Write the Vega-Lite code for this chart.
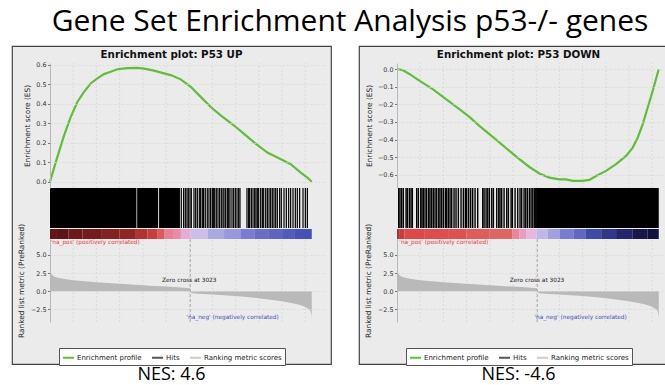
{
  "$schema": "https://vega.github.io/schema/vega-lite/v6.json",
  "background": "white",
  "padding": {"left": 11, "top": 7, "right": 0, "bottom": 0},
  "title": {"text": "Gene Set Enrichment Analysis p53-/- genes", "font": "Open Sans", "fontSize": 30, "fontWeight": "normal", "color": "#000", "anchor": "middle", "frame": "bounds", "dx": 5, "offset": 8},
  "spacing": 26,
  "datasets": {
    "grid": [{"r":500},{"r":1000},{"r":1500},{"r":2000},{"r":2500},{"r":3000},{"r":3500},{"r":4000},{"r":4500},{"r":5000},{"r":5500}],
    "metric": [{"r":0,"m":3.2},{"r":10,"m":2.8},{"r":30,"m":2.4},{"r":60,"m":2.15},{"r":100,"m":2.0},{"r":200,"m":1.82},{"r":350,"m":1.65},{"r":500,"m":1.52},{"r":750,"m":1.38},{"r":1000,"m":1.25},{"r":1250,"m":1.12},{"r":1500,"m":1.02},{"r":1750,"m":0.92},{"r":2000,"m":0.83},{"r":2250,"m":0.74},{"r":2500,"m":0.64},{"r":2750,"m":0.54},{"r":2950,"m":0.45},{"r":3015,"m":0.4},{"r":3023,"m":0.0},{"r":3030,"m":-0.2},{"r":3100,"m":-0.3},{"r":3300,"m":-0.37},{"r":3500,"m":-0.45},{"r":3750,"m":-0.55},{"r":4000,"m":-0.66},{"r":4250,"m":-0.8},{"r":4500,"m":-0.96},{"r":4750,"m":-1.15},{"r":5000,"m":-1.38},{"r":5200,"m":-1.6},{"r":5350,"m":-1.82},{"r":5450,"m":-2.02},{"r":5530,"m":-2.25},{"r":5590,"m":-2.5},{"r":5620,"m":-2.8},{"r":5635,"m":-3.3},{"r":5640,"m":-3.9}],
    "esUp": [{"r":0,"es":0},{"r":86,"es":0.07},{"r":194,"es":0.155},{"r":302,"es":0.237},{"r":445,"es":0.332},{"r":589,"es":0.41},{"r":733,"es":0.462},{"r":876,"es":0.505},{"r":1020,"es":0.531},{"r":1164,"es":0.553},{"r":1307,"es":0.565},{"r":1451,"es":0.578},{"r":1667,"es":0.584},{"r":1882,"es":0.585},{"r":2026,"es":0.581},{"r":2241,"es":0.571},{"r":2457,"es":0.557},{"r":2601,"es":0.548},{"r":2816,"es":0.526},{"r":3032,"es":0.488},{"r":3247,"es":0.436},{"r":3463,"es":0.384},{"r":3678,"es":0.341},{"r":3966,"es":0.289},{"r":4181,"es":0.246},{"r":4397,"es":0.202},{"r":4684,"es":0.15},{"r":4899,"es":0.125},{"r":5187,"es":0.09},{"r":5402,"es":0.047},{"r":5546,"es":0.021},{"r":5640,"es":0.0}],
    "esDown": [{"r":0,"es":0},{"r":122,"es":-0.006},{"r":266,"es":-0.028},{"r":481,"es":-0.066},{"r":769,"es":-0.114},{"r":1056,"es":-0.17},{"r":1343,"es":-0.227},{"r":1559,"es":-0.271},{"r":1774,"es":-0.322},{"r":1990,"es":-0.369},{"r":2205,"es":-0.416},{"r":2421,"es":-0.464},{"r":2637,"es":-0.511},{"r":2852,"es":-0.555},{"r":3068,"es":-0.592},{"r":3283,"es":-0.615},{"r":3499,"es":-0.625},{"r":3642,"es":-0.625},{"r":3786,"es":-0.634},{"r":4001,"es":-0.634},{"r":4145,"es":-0.628},{"r":4289,"es":-0.606},{"r":4504,"es":-0.577},{"r":4720,"es":-0.539},{"r":4935,"es":-0.492},{"r":5079,"es":-0.445},{"r":5187,"es":-0.388},{"r":5295,"es":-0.312},{"r":5402,"es":-0.218},{"r":5510,"es":-0.123},{"r":5640,"es":0.0}],
    "hitsUp": [{"r":0,"r2":1862},{"r":1878,"r2":2330},{"r":2350,"r2":2800},{"r":2816,"r2":2842},{"r":2866,"r2":2892},{"r":2902,"r2":2928},{"r":2938,"r2":2964},{"r":2967,"r2":2993},{"r":3003,"r2":3029},{"r":3032,"r2":3058},{"r":3089,"r2":3115},{"r":3125,"r2":3151},{"r":3161,"r2":3187},{"r":3204,"r2":3230},{"r":3233,"r2":3259},{"r":3269,"r2":3295},{"r":3297,"r2":3323},{"r":3333,"r2":3359},{"r":3376,"r2":3402},{"r":3412,"r2":3438},{"r":3448,"r2":3474},{"r":3484,"r2":3510},{"r":3506,"r2":3532},{"r":3535,"r2":3561},{"r":3570,"r2":3596},{"r":3606,"r2":3632},{"r":3642,"r2":3668},{"r":3678,"r2":3704},{"r":3714,"r2":3740},{"r":3736,"r2":3762},{"r":3772,"r2":3798},{"r":3808,"r2":3834},{"r":3837,"r2":3863},{"r":3865,"r2":3891},{"r":3908,"r2":3934},{"r":3944,"r2":3970},{"r":3980,"r2":4006},{"r":4016,"r2":4042},{"r":4052,"r2":4078},{"r":4080,"r2":4106},{"r":4231,"r2":4257},{"r":4267,"r2":4293},{"r":4289,"r2":4315},{"r":4325,"r2":4351},{"r":4361,"r2":4387},{"r":4397,"r2":4423},{"r":4425,"r2":4451},{"r":4454,"r2":4480},{"r":4483,"r2":4509},{"r":4526,"r2":4552},{"r":4562,"r2":4588},{"r":4591,"r2":4617},{"r":4634,"r2":4660},{"r":4670,"r2":4696},{"r":4706,"r2":4732},{"r":4741,"r2":4767},{"r":4777,"r2":4803},{"r":4813,"r2":4839},{"r":4849,"r2":4875},{"r":4885,"r2":4911},{"r":4935,"r2":4961},{"r":4971,"r2":4997},{"r":5029,"r2":5055},{"r":5079,"r2":5105},{"r":5129,"r2":5155},{"r":5172,"r2":5198},{"r":5223,"r2":5249},{"r":5273,"r2":5299},{"r":5316,"r2":5342},{"r":5366,"r2":5392},{"r":5438,"r2":5464},{"r":5489,"r2":5515},{"r":5532,"r2":5558}],
    "hitsDown": [{"r":22,"r2":52},{"r":50,"r2":80},{"r":86,"r2":116},{"r":122,"r2":152},{"r":180,"r2":210},{"r":208,"r2":238},{"r":251,"r2":281},{"r":287,"r2":317},{"r":316,"r2":346},{"r":409,"r2":439},{"r":445,"r2":475},{"r":496,"r2":526},{"r":524,"r2":554},{"r":553,"r2":583},{"r":589,"r2":619},{"r":625,"r2":655},{"r":668,"r2":698},{"r":697,"r2":727},{"r":733,"r2":763},{"r":769,"r2":799},{"r":805,"r2":835},{"r":841,"r2":871},{"r":884,"r2":914},{"r":912,"r2":942},{"r":948,"r2":978},{"r":984,"r2":1014},{"r":1027,"r2":1057},{"r":1056,"r2":1086},{"r":1092,"r2":1122},{"r":1128,"r2":1158},{"r":1164,"r2":1194},{"r":1214,"r2":1244},{"r":1257,"r2":1287},{"r":1307,"r2":1337},{"r":1365,"r2":1395},{"r":1415,"r2":1445},{"r":1458,"r2":1488},{"r":1487,"r2":1517},{"r":1530,"r2":1560},{"r":1573,"r2":1603},{"r":1616,"r2":1646},{"r":1667,"r2":1697},{"r":1724,"r2":1754},{"r":1832,"r2":1862},{"r":1861,"r2":1891},{"r":1904,"r2":1934},{"r":1940,"r2":1970},{"r":1976,"r2":2006},{"r":2026,"r2":2056},{"r":2062,"r2":2092},{"r":2134,"r2":2164},{"r":2177,"r2":2207},{"r":2205,"r2":2235},{"r":2241,"r2":2271},{"r":2292,"r2":2322},{"r":2349,"r2":2379},{"r":2385,"r2":2415},{"r":2443,"r2":2473},{"r":2471,"r2":2501},{"r":2529,"r2":2559},{"r":2586,"r2":2616},{"r":2636,"r2":2666},{"r":2672,"r2":2702},{"r":2723,"r2":2753},{"r":2759,"r2":2789},{"r":2795,"r2":2825},{"r":2838,"r2":2868},{"r":2874,"r2":2904},{"r":2910,"r2":2940},{"r":2945,"r2":2975},{"r":2974,"r2":3004},{"r":2996,"r2":5640}],
    "cbUp": [{"r":0,"r2":150,"v":0.98},{"r":150,"r2":400,"v":1.0},{"r":400,"r2":700,"v":0.95},{"r":700,"r2":1100,"v":0.93},{"r":1100,"r2":1500,"v":0.88},{"r":1500,"r2":1850,"v":0.85},{"r":1850,"r2":2100,"v":0.75},{"r":2100,"r2":2320,"v":0.68},{"r":2320,"r2":2470,"v":0.52},{"r":2470,"r2":2650,"v":0.32},{"r":2650,"r2":2820,"v":0.28},{"r":2820,"r2":3030,"v":0.15},{"r":3030,"r2":3400,"v":-0.1},{"r":3400,"r2":3750,"v":-0.22},{"r":3750,"r2":4100,"v":-0.28},{"r":4100,"r2":4400,"v":-0.38},{"r":4400,"r2":4700,"v":-0.45},{"r":4700,"r2":5000,"v":-0.5},{"r":5000,"r2":5260,"v":-0.55},{"r":5260,"r2":5640,"v":-0.6}],
    "cbDown": [{"r":0,"r2":60,"v":0.75},{"r":60,"r2":160,"v":0.68},{"r":160,"r2":600,"v":0.6},{"r":600,"r2":1100,"v":0.58},{"r":1100,"r2":1500,"v":0.56},{"r":1500,"r2":2000,"v":0.5},{"r":2000,"r2":2490,"v":0.45},{"r":2490,"r2":2640,"v":0.3},{"r":2640,"r2":2780,"v":0.22},{"r":2780,"r2":3010,"v":0.1},{"r":3010,"r2":3250,"v":-0.15},{"r":3250,"r2":3500,"v":-0.25},{"r":3500,"r2":3800,"v":-0.38},{"r":3800,"r2":4070,"v":-0.48},{"r":4070,"r2":4400,"v":-0.65},{"r":4400,"r2":4720,"v":-0.75},{"r":4720,"r2":5080,"v":-0.86},{"r":5080,"r2":5400,"v":-0.96},{"r":5400,"r2":5640,"v":-1.0}]
  },
  "hconcat": [
    {
      "title": {"text": "NES: 4.6", "orient": "bottom", "font": "Open Sans", "fontSize": 18, "fontWeight": "normal", "color": "#000", "anchor": "middle", "offset": 0},
      "vconcat": [
        {
          "width": 319, "height": 318,
          "view": {"fill": "#ebebeb", "stroke": "#444", "strokeWidth": 1.2},
          "title": {"text": "Enrichment plot: P53 UP", "offset": -14, "font": "DejaVu Sans", "fontSize": 10.3, "fontWeight": "bold", "color": "#111", "anchor": "middle"},
          "resolve": {"scale": {"y": "independent"}, "axis": {"y": "independent"}},
          "encoding": {"x": {"field": "r", "type": "quantitative", "scale": {"domain": [0, 5925], "range": [38, 313], "nice": false, "zero": false}, "axis": {"title": "Rank in Ordered Dataset", "offset": -42, "values": [0,500,1000,1500,2000,2500,3000,3500,4000,4500,5000,5500], "format": ",d", "grid": false}}},
          "layer": [
            {"data": {"values": [{}]}, "mark": {"type": "rect", "fill": "white", "stroke": "#c4c4c4", "strokeWidth": 0.8},
             "encoding": {"x": {"datum": 0, "axis": null}, "x2": {"datum": 5925}, "y": {"datum": -0.032, "scale": {"domain": [-0.032, 0.61], "range": [142, 17], "nice": false, "zero": false}, "axis": null}, "y2": {"datum": 0.61}}},
            {"data": {"name": "grid"}, "mark": {"type": "rule", "stroke": "#d6d6d6", "strokeDash": [2, 2], "strokeWidth": 0.8},
             "encoding": {"y": {"datum": -0.032, "scale": {"domain": [-0.032, 0.61], "range": [142, 17], "nice": false, "zero": false}, "axis": null}, "y2": {"datum": 0.61}}},
            {"data": {"values": [{}]}, "mark": {"type": "rect", "fill": "#cfcfcf"},
             "encoding": {"x": {"datum": 0, "axis": null}, "x2": {"datum": 5925}, "y": {"datum": -0.008, "scale": {"domain": [-0.032, 0.61], "range": [142, 17], "nice": false, "zero": false}, "axis": null}, "y2": {"datum": 0.008}}},
            {"data": {"name": "esUp"}, "mark": {"type": "line", "strokeWidth": 2.2},
             "encoding": {
               "y": {"field": "es", "type": "quantitative", "scale": {"domain": [-0.032, 0.61], "range": [142, 17], "nice": false, "zero": false},
                     "axis": {"title": "Enrichment score (ES)", "orient": "left", "offset": -38, "values": [0, 0.1, 0.2, 0.3, 0.4, 0.5, 0.6], "format": ".1f", "grid": true, "zindex": 1, "titlePadding": 4}},
               "color": {"datum": "Enrichment profile", "scale": {"domain": ["Enrichment profile", "Hits", "Ranking metric scores"], "range": ["#62bd3b", "#555555", "#cccccc"]},
                         "legend": {"orient": "none", "legendX": 47, "legendY": 302, "direction": "horizontal", "title": null, "symbolType": "stroke", "symbolStrokeWidth": 2, "symbolSize": 121, "labelFont": "DejaVu Sans", "labelFontSize": 7, "labelColor": "#222", "labelOffset": 2, "columnPadding": 6, "fillColor": "white", "strokeColor": "#555", "padding": 3}}}},
            {"data": {"values": [{}]}, "mark": {"type": "rect", "fill": "white", "stroke": "#c4c4c4", "strokeWidth": 0.8},
             "encoding": {"x": {"datum": 0, "axis": null}, "x2": {"datum": 5925}, "y": {"datum": 0, "scale": {"domain": [0, 1], "range": [182, 142]}, "axis": null}, "y2": {"datum": 1}}},
            {"data": {"name": "hitsUp"}, "mark": {"type": "rect", "fill": "black"},
             "encoding": {"x2": {"field": "r2"}, "y": {"datum": 0, "scale": {"domain": [0, 1], "range": [182, 142]}, "axis": null}, "y2": {"datum": 1}}},
            {"data": {"name": "cbUp"}, "mark": {"type": "rect"},
             "encoding": {"x2": {"field": "r2"}, "y": {"datum": 0, "scale": {"domain": [0, 1], "range": [193, 183]}, "axis": null}, "y2": {"datum": 1},
               "fill": {"field": "v", "type": "quantitative", "scale": {"domain": [-1, -0.8, -0.6, -0.4, -0.2, 0, 0.2, 0.4, 0.6, 0.8, 1], "range": ["#121240", "#2c2e80", "#4352b8", "#7476d0", "#b0b0e4", "#e2cdee", "#e8a2c8", "#e06c6c", "#e04848", "#a42a2a", "#5c1414"]}, "legend": null}}},
            {"data": {"values": [{}]}, "mark": {"type": "rect", "fill": "white", "stroke": "#c4c4c4", "strokeWidth": 0.8},
             "encoding": {"x": {"datum": 0, "axis": null}, "x2": {"datum": 5925}, "y": {"datum": -4.22, "scale": {"domain": [-4.22, 7.18], "range": [276, 193], "nice": false, "zero": false}, "axis": null}, "y2": {"datum": 7.18}}},
            {"data": {"name": "grid"}, "mark": {"type": "rule", "stroke": "#d6d6d6", "strokeDash": [2, 2], "strokeWidth": 0.8},
             "encoding": {"y": {"datum": -4.22, "scale": {"domain": [-4.22, 7.18], "range": [276, 193], "nice": false, "zero": false}, "axis": null}, "y2": {"datum": 7.18}}},
            {"data": {"name": "metric"}, "mark": {"type": "area", "color": "#b9b9b9"},
             "encoding": {"y": {"field": "m", "type": "quantitative", "scale": {"domain": [-4.22, 7.18], "range": [276, 193], "nice": false, "zero": false},
                     "axis": {"title": "Ranked list metric (PreRanked)", "orient": "left", "offset": -38, "values": [-2.5, 0, 2.5, 5], "format": ".1f", "grid": true, "zindex": 1, "titlePadding": 5}},
               "y2": {"datum": 0}}},
            {"data": {"values": [{"r": 3023}]}, "mark": {"type": "rule", "stroke": "#9a9a9a", "strokeDash": [3, 2], "strokeWidth": 0.8},
             "encoding": {"y": {"datum": -4.22, "scale": {"domain": [-4.22, 7.18], "range": [276, 193], "nice": false, "zero": false}, "axis": null}, "y2": {"datum": 7.18}}},
            {"data": {"values": [{"r": 15}]}, "mark": {"type": "text", "text": "'na_pos' (positively correlated)", "align": "left", "baseline": "middle", "font": "DejaVu Sans", "fontSize": 5.8, "color": "#e23b3b"},
             "encoding": {"y": {"datum": 6.75, "scale": {"domain": [-4.22, 7.18], "range": [276, 193], "nice": false, "zero": false}, "axis": null}}},
            {"data": {"values": [{"r": 3000}]}, "mark": {"type": "text", "text": "Zero cross at 3023", "align": "center", "baseline": "middle", "font": "DejaVu Sans", "fontSize": 5.8, "color": "#222"},
             "encoding": {"y": {"datum": 1.5, "scale": {"domain": [-4.22, 7.18], "range": [276, 193], "nice": false, "zero": false}, "axis": null}}},
            {"data": {"values": [{"r": 2940}]}, "mark": {"type": "text", "text": "'na_neg' (negatively correlated)", "align": "left", "baseline": "middle", "font": "DejaVu Sans", "fontSize": 5.8, "color": "#3f4fbf"},
             "encoding": {"y": {"datum": -3.5, "scale": {"domain": [-4.22, 7.18], "range": [276, 193], "nice": false, "zero": false}, "axis": null}}}
          ]
        }
      ]
    },
    {
      "title": {"text": "NES: -4.6", "orient": "bottom", "font": "Open Sans", "fontSize": 18, "fontWeight": "normal", "color": "#000", "anchor": "middle", "offset": 0},
      "vconcat": [
        {
          "width": 319, "height": 318,
          "view": {"fill": "#ebebeb", "stroke": "#444", "strokeWidth": 1.2},
          "title": {"text": "Enrichment plot: P53 DOWN", "offset": -14, "font": "DejaVu Sans", "fontSize": 10.3, "fontWeight": "bold", "color": "#111", "anchor": "middle"},
          "resolve": {"scale": {"y": "independent"}, "axis": {"y": "independent"}},
          "encoding": {"x": {"field": "r", "type": "quantitative", "scale": {"domain": [0, 5925], "range": [38, 313], "nice": false, "zero": false}, "axis": {"title": "Rank in Ordered Dataset", "offset": -42, "values": [0,500,1000,1500,2000,2500,3000,3500,4000,4500,5000,5500], "format": ",d", "grid": false}}},
          "layer": [
            {"data": {"values": [{}]}, "mark": {"type": "rect", "fill": "white", "stroke": "#c4c4c4", "strokeWidth": 0.8},
             "encoding": {"x": {"datum": 0, "axis": null}, "x2": {"datum": 5925}, "y": {"datum": -0.674, "scale": {"domain": [-0.674, 0.034], "range": [142, 17], "nice": false, "zero": false}, "axis": null}, "y2": {"datum": 0.034}}},
            {"data": {"name": "grid"}, "mark": {"type": "rule", "stroke": "#d6d6d6", "strokeDash": [2, 2], "strokeWidth": 0.8},
             "encoding": {"y": {"datum": -0.674, "scale": {"domain": [-0.674, 0.034], "range": [142, 17], "nice": false, "zero": false}, "axis": null}, "y2": {"datum": 0.034}}},
            {"data": {"values": [{}]}, "mark": {"type": "rect", "fill": "#cfcfcf"},
             "encoding": {"x": {"datum": 0, "axis": null}, "x2": {"datum": 5925}, "y": {"datum": -0.008, "scale": {"domain": [-0.674, 0.034], "range": [142, 17], "nice": false, "zero": false}, "axis": null}, "y2": {"datum": 0.008}}},
            {"data": {"name": "esDown"}, "mark": {"type": "line", "strokeWidth": 2.2},
             "encoding": {
               "y": {"field": "es", "type": "quantitative", "scale": {"domain": [-0.674, 0.034], "range": [142, 17], "nice": false, "zero": false},
                     "axis": {"title": "Enrichment score (ES)", "orient": "left", "offset": -38, "values": [-0.6, -0.5, -0.4, -0.3, -0.2, -0.1, 0], "format": ".1f", "grid": true, "zindex": 1, "titlePadding": 4}},
               "color": {"datum": "Enrichment profile", "scale": {"domain": ["Enrichment profile", "Hits", "Ranking metric scores"], "range": ["#62bd3b", "#555555", "#cccccc"]},
                         "legend": {"orient": "none", "legendX": 47, "legendY": 302, "direction": "horizontal", "title": null, "symbolType": "stroke", "symbolStrokeWidth": 2, "symbolSize": 121, "labelFont": "DejaVu Sans", "labelFontSize": 7, "labelColor": "#222", "labelOffset": 2, "columnPadding": 6, "fillColor": "white", "strokeColor": "#555", "padding": 3}}}},
            {"data": {"values": [{}]}, "mark": {"type": "rect", "fill": "white", "stroke": "#c4c4c4", "strokeWidth": 0.8},
             "encoding": {"x": {"datum": 0, "axis": null}, "x2": {"datum": 5925}, "y": {"datum": 0, "scale": {"domain": [0, 1], "range": [182, 142]}, "axis": null}, "y2": {"datum": 1}}},
            {"data": {"name": "hitsDown"}, "mark": {"type": "rect", "fill": "black"},
             "encoding": {"x2": {"field": "r2"}, "y": {"datum": 0, "scale": {"domain": [0, 1], "range": [182, 142]}, "axis": null}, "y2": {"datum": 1}}},
            {"data": {"name": "cbDown"}, "mark": {"type": "rect"},
             "encoding": {"x2": {"field": "r2"}, "y": {"datum": 0, "scale": {"domain": [0, 1], "range": [193, 183]}, "axis": null}, "y2": {"datum": 1},
               "fill": {"field": "v", "type": "quantitative", "scale": {"domain": [-1, -0.8, -0.6, -0.4, -0.2, 0, 0.2, 0.4, 0.6, 0.8, 1], "range": ["#121240", "#2c2e80", "#4352b8", "#7476d0", "#b0b0e4", "#e2cdee", "#e8a2c8", "#e06c6c", "#e04848", "#a42a2a", "#5c1414"]}, "legend": null}}},
            {"data": {"values": [{}]}, "mark": {"type": "rect", "fill": "white", "stroke": "#c4c4c4", "strokeWidth": 0.8},
             "encoding": {"x": {"datum": 0, "axis": null}, "x2": {"datum": 5925}, "y": {"datum": -4.22, "scale": {"domain": [-4.22, 7.18], "range": [276, 193], "nice": false, "zero": false}, "axis": null}, "y2": {"datum": 7.18}}},
            {"data": {"name": "grid"}, "mark": {"type": "rule", "stroke": "#d6d6d6", "strokeDash": [2, 2], "strokeWidth": 0.8},
             "encoding": {"y": {"datum": -4.22, "scale": {"domain": [-4.22, 7.18], "range": [276, 193], "nice": false, "zero": false}, "axis": null}, "y2": {"datum": 7.18}}},
            {"data": {"name": "metric"}, "mark": {"type": "area", "color": "#b9b9b9"},
             "encoding": {"y": {"field": "m", "type": "quantitative", "scale": {"domain": [-4.22, 7.18], "range": [276, 193], "nice": false, "zero": false},
                     "axis": {"title": "Ranked list metric (PreRanked)", "orient": "left", "offset": -38, "values": [-2.5, 0, 2.5, 5], "format": ".1f", "grid": true, "zindex": 1, "titlePadding": 5}},
               "y2": {"datum": 0}}},
            {"data": {"values": [{"r": 3023}]}, "mark": {"type": "rule", "stroke": "#9a9a9a", "strokeDash": [3, 2], "strokeWidth": 0.8},
             "encoding": {"y": {"datum": -4.22, "scale": {"domain": [-4.22, 7.18], "range": [276, 193], "nice": false, "zero": false}, "axis": null}, "y2": {"datum": 7.18}}},
            {"data": {"values": [{"r": 50}]}, "mark": {"type": "text", "text": "'na_pos' (positively correlated)", "align": "left", "baseline": "middle", "font": "DejaVu Sans", "fontSize": 5.8, "color": "#e23b3b"},
             "encoding": {"y": {"datum": 6.75, "scale": {"domain": [-4.22, 7.18], "range": [276, 193], "nice": false, "zero": false}, "axis": null}}},
            {"data": {"values": [{"r": 3017}]}, "mark": {"type": "text", "text": "Zero cross at 3023", "align": "center", "baseline": "middle", "font": "DejaVu Sans", "fontSize": 5.8, "color": "#222"},
             "encoding": {"y": {"datum": 1.5, "scale": {"domain": [-4.22, 7.18], "range": [276, 193], "nice": false, "zero": false}, "axis": null}}},
            {"data": {"values": [{"r": 2960}]}, "mark": {"type": "text", "text": "'na_neg' (negatively correlated)", "align": "left", "baseline": "middle", "font": "DejaVu Sans", "fontSize": 5.8, "color": "#3f4fbf"},
             "encoding": {"y": {"datum": -3.5, "scale": {"domain": [-4.22, 7.18], "range": [276, 193], "nice": false, "zero": false}, "axis": null}}}
          ]
        }
      ]
    }
  ],
  "resolve": {"scale": {"x": "independent", "y": "independent", "color": "independent"}, "legend": {"color": "independent"}},
  "config": {
    "view": {"stroke": null},
    "axis": {"domainColor": "#b8b8b8", "tickColor": "#777", "tickSize": 2.5, "labelFont": "DejaVu Sans", "labelFontSize": 6.4, "labelColor": "#333", "labelPadding": 1.5, "titleFont": "DejaVu Sans", "titleFontSize": 7.4, "titleFontWeight": "normal", "titleColor": "#222", "titlePadding": 2, "labelOverlap": false, "labelFlush": false, "gridColor": "#d8d8d8", "gridDash": [2, 2], "gridWidth": 0.8}
  }
}
